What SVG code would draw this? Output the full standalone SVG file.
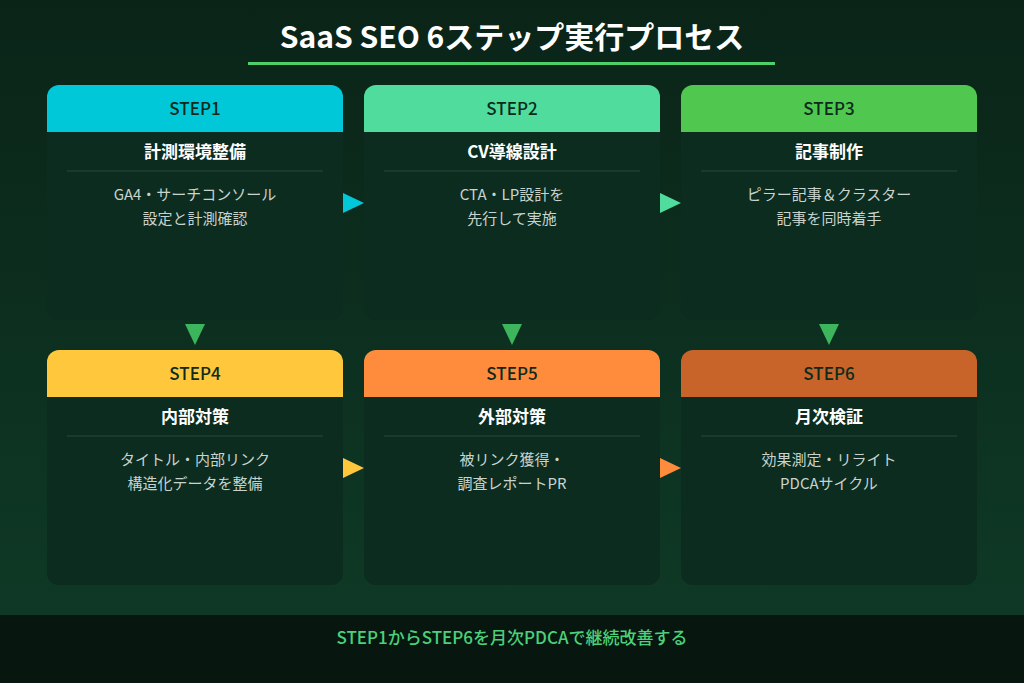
<svg xmlns="http://www.w3.org/2000/svg" width="1024" height="683" viewBox="0 0 1024 683">
<defs>
<linearGradient id="bg" x1="0" y1="0" x2="0" y2="1"><stop offset="0" stop-color="#0a2418"/><stop offset="1" stop-color="#0f3b27"/></linearGradient>
<style>
text{font-family:"Noto Sans CJK JP","Noto Sans",sans-serif;text-anchor:middle}
.card{fill:#0b2c1e}
.hd{font-size:17px;font-weight:500;fill:#0d2a1c}
.tt{font-size:17px;font-weight:700;fill:#ffffff}
.ds{font-size:15px;fill:#c9d3ce}
.dv{stroke:#2a4a3a;stroke-width:1}
</style>
</defs>
<rect width="1024" height="683" fill="url(#bg)"/>
<rect y="615" width="1024" height="68" fill="#07170f"/>
<text x="512" y="48" style="font-size:30px;font-weight:700;fill:#fff">SaaS SEO 6ステップ実行プロセス</text>
<rect x="248" y="62" width="527" height="3" fill="#4cd06a"/>
<g id="n1"><rect class="card" x="47" y="85" width="296" height="235" rx="12"/><path d="M47 97a12 12 0 0 1 12-12h272a12 12 0 0 1 12 12v35h-296z" fill="#00c8d8"/><text class="hd" x="195" y="115">STEP1</text><text class="tt" x="195" y="158">計測環境整備</text><line class="dv" x1="67" y1="171" x2="323" y2="171"/><text class="ds" x="195" y="200">GA4・サーチコンソール</text><text class="ds" x="195" y="224">設定と計測確認</text></g>
<g id="n2"><rect class="card" x="364" y="85" width="296" height="235" rx="12"/><path d="M364 97a12 12 0 0 1 12-12h272a12 12 0 0 1 12 12v35h-296z" fill="#50dc9c"/><text class="hd" x="512" y="115">STEP2</text><text class="tt" x="512" y="158">CV導線設計</text><line class="dv" x1="384" y1="171" x2="640" y2="171"/><text class="ds" x="512" y="200">CTA・LP設計を</text><text class="ds" x="512" y="224">先行して実施</text></g>
<g id="n3"><rect class="card" x="681" y="85" width="296" height="235" rx="12"/><path d="M681 97a12 12 0 0 1 12-12h272a12 12 0 0 1 12 12v35h-296z" fill="#50c850"/><text class="hd" x="829" y="115">STEP3</text><text class="tt" x="829" y="158">記事制作</text><line class="dv" x1="701" y1="171" x2="957" y2="171"/><text class="ds" x="829" y="200">ピラー記事＆クラスター</text><text class="ds" x="829" y="224">記事を同時着手</text></g>
<g id="n4"><rect class="card" x="47" y="350" width="296" height="235" rx="12"/><path d="M47 362a12 12 0 0 1 12-12h272a12 12 0 0 1 12 12v35h-296z" fill="#ffc83c"/><text class="hd" x="195" y="380">STEP4</text><text class="tt" x="195" y="423">内部対策</text><line class="dv" x1="67" y1="436" x2="323" y2="436"/><text class="ds" x="195" y="465">タイトル・内部リンク</text><text class="ds" x="195" y="489">構造化データを整備</text></g>
<g id="n5"><rect class="card" x="364" y="350" width="296" height="235" rx="12"/><path d="M364 362a12 12 0 0 1 12-12h272a12 12 0 0 1 12 12v35h-296z" fill="#ff8c3c"/><text class="hd" x="512" y="380">STEP5</text><text class="tt" x="512" y="423">外部対策</text><line class="dv" x1="384" y1="436" x2="640" y2="436"/><text class="ds" x="512" y="465">被リンク獲得・</text><text class="ds" x="512" y="489">調査レポートPR</text></g>
<g id="n6"><rect class="card" x="681" y="350" width="296" height="235" rx="12"/><path d="M681 362a12 12 0 0 1 12-12h272a12 12 0 0 1 12 12v35h-296z" fill="#c8642a"/><text class="hd" x="829" y="380">STEP6</text><text class="tt" x="829" y="423">月次検証</text><line class="dv" x1="701" y1="436" x2="957" y2="436"/><text class="ds" x="829" y="465">効果測定・リライト</text><text class="ds" x="829" y="489">PDCAサイクル</text></g>
<g id="connectors">
<path d="M343 193l21 10l-21 10z" fill="#00c8d8"/>
<path d="M660 193l21 10l-21 10z" fill="#50dc9c"/>
<path d="M343 458l21 10l-21 10z" fill="#ffc83c"/>
<path d="M660 458l21 10l-21 10z" fill="#ff8c3c"/>
<path d="M185 324h20l-10 21z" fill="#3cb55c"/>
<path d="M502 324h20l-10 21z" fill="#3cb55c"/>
<path d="M819 324h20l-10 21z" fill="#3cb55c"/>
</g>
<text x="512" y="644" style="font-size:17px;font-weight:500;fill:#4cd07a">STEP1からSTEP6を月次PDCAで継続改善する</text>
</svg>
